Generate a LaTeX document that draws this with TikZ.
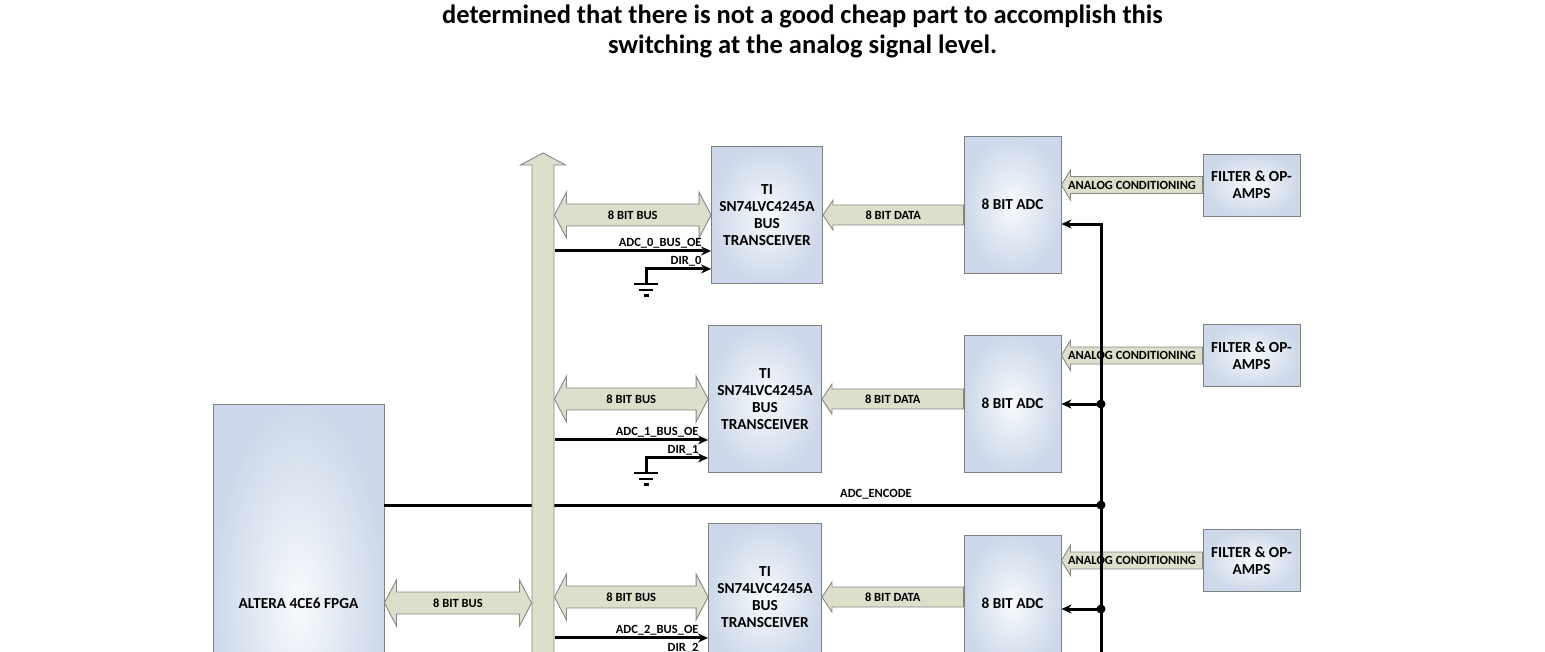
\documentclass[tikz,border=0pt]{standalone}
\usepackage{fontspec}
\setmainfont{Carlito}
\usepackage{tikz}
\usetikzlibrary{arrows.meta,positioning,calc}
\usepackage{xcolor}
\definecolor{boxedge}{RGB}{128,128,128}
\definecolor{boxin}{RGB}{248,250,253}
\definecolor{boxout}{RGB}{204,216,233}
\definecolor{busfill}{RGB}{220,223,202}
\definecolor{busedge}{RGB}{135,135,135}

\newcommand{\busarrow}[3]{%
  \draw[blk] (#1) -- ++(12,-23) -- ++(0,12) -- ($(#2)+(-12,-11)$) -- ++(0,-12) -- (#2)
    -- ++(-12,23) -- ++(0,-12) -- ($(#1)+(12,11)$) -- ++(0,12) -- cycle;
  \node[lab] at ($(#1)!.5!(#2)$) {#3};}
\newcommand{\feedarrow}[6]{%
  \draw[blk] (#1) -- ++(#5,-#3) -- ($(#1)+(#5,-#4)$) -- ($(#2)+(0,-#4)$)
    -- ($(#2)+(0,#4)$) -- ($(#1)+(#5,#4)$) -- ($(#1)+(#5,#3)$) -- cycle;
  \node[lab] at ($(#1)!.5!(#2)$) {#6};}

\begin{document}
\begin{tikzpicture}[
  x=1pt, y=-1pt,
  blockbox/.style={draw=boxedge, line width=0.9pt, inner color=boxin, outer color=boxout,
    inner sep=0pt, align=center, font=\fontsize{15.3}{17}\selectfont\bfseries},
  lab/.style={font=\fontsize{12.5}{14}\selectfont\bfseries, inner sep=0pt},
  blk/.style={draw=busedge, fill=busfill, line width=0.9pt},
  wire/.style={line width=3pt},
  sig/.style={line width=3pt, -{Stealth[length=10pt,width=9pt]}},
  gnd/.style={line width=2.2pt},
]
\useasboundingbox (0,0) rectangle (1545,651);
\clip (0,0) rectangle (1545,651);

\node[font=\fontsize{26.5}{30}\selectfont\bfseries, align=center] (title) at (802.5,31)
  {determined that there is not a good cheap part to accomplish this\\
   switching at the analog signal level.};

\node[blockbox, minimum width=171pt, minimum height=398pt] (fpga) at (298.5,603) {ALTERA 4CE6 FPGA};
\node[blockbox, minimum width=111pt, minimum height=137pt] (tr0) at (767,215)
  {TI\\SN74LVC4245A\\BUS\\TRANSCEIVER};
\node[blockbox, minimum width=113pt, minimum height=147pt] (tr1) at (765,399)
  {TI\\SN74LVC4245A\\BUS\\TRANSCEIVER};
\node[blockbox, minimum width=113pt, minimum height=147pt] (tr2) at (765,597)
  {TI\\SN74LVC4245A\\BUS\\TRANSCEIVER};
\node[blockbox, minimum width=97pt, minimum height=137pt] (adc0) at (1012.5,204.5) {8 BIT ADC};
\node[blockbox, minimum width=97pt, minimum height=137pt] (adc1) at (1012.5,403.5) {8 BIT ADC};
\node[blockbox, minimum width=97pt, minimum height=137pt] (adc2) at (1012.5,603.5) {8 BIT ADC};
\node[blockbox, minimum width=97pt, minimum height=62pt] (filt0) at (1251.5,185) {FILTER \& OP-\\AMPS};
\node[blockbox, minimum width=97pt, minimum height=62pt] (filt1) at (1251.5,355.5) {FILTER \& OP-\\AMPS};
\node[blockbox, minimum width=97pt, minimum height=62pt] (filt2) at (1251.5,560.5) {FILTER \& OP-\\AMPS};

\coordinate (busL) at (531.5,0);
\coordinate (busR) at (554.5,0);
\coordinate (clk0) at (1101,224);
\coordinate (clk1) at (1101,404);
\coordinate (enc) at (1101,505);
\coordinate (clk2) at (1101,609);
\coordinate (clkEnd) at (1101,720);

\draw[wire] (enc -| fpga.east) -- node[lab, pos=.686, anchor=base, yshift=8pt] {ADC\_ENCODE} (enc);
\draw[blk] (543,153) -- ++(22.5,12) -- ++(-11.5,0) -- ++(0,560) -- ++(-22,0) -- ++(0,-560) -- ++(-11.5,0) -- cycle;

\busarrow{fpga.east}{busL |- fpga.east}{8 BIT BUS}
\busarrow{busR |- tr0.west}{tr0.west}{8 BIT BUS}
\busarrow{busR |- tr1.west}{tr1.west}{8 BIT BUS}
\busarrow{busR |- tr2.west}{tr2.west}{8 BIT BUS}

\feedarrow{tr0.east}{adc0.west |- tr0.east}{15}{10}{10}{8 BIT DATA}
\feedarrow{tr1.east}{adc1.west |- tr1.east}{15}{10}{10}{8 BIT DATA}
\feedarrow{tr2.east}{adc2.west |- tr2.east}{15}{10}{10}{8 BIT DATA}
\feedarrow{adc0.east |- filt0.west}{filt0.west}{15}{8.5}{9}{ANALOG CONDITIONING}
\feedarrow{adc1.east |- filt1.west}{filt1.west}{15}{8.5}{9}{ANALOG CONDITIONING}
\feedarrow{adc2.east |- filt2.west}{filt2.west}{15}{8.5}{9}{ANALOG CONDITIONING}

\coordinate (oe0) at ([yshift=33pt]tr0.south west);
\coordinate (dir0) at ([yshift=15pt]tr0.south west);
\coordinate (g0) at (646,284);
\draw[sig] (busR |- oe0) -- (oe0) node[lab, anchor=base east, xshift=-8pt, yshift=4pt] {ADC\_0\_BUS\_OE};
\draw[sig] (g0) |- (dir0) node[lab, anchor=base east, xshift=-8pt, yshift=4pt] {DIR\_0};
\draw[gnd] (g0) +(-12,0) -- +(12,0) +(-7,6) -- +(7,6) +(-2.5,11.5) -- +(2.5,11.5);

\coordinate (oe1) at ([yshift=33pt]tr1.south west);
\coordinate (dir1) at ([yshift=15pt]tr1.south west);
\coordinate (g1) at (646,473);
\draw[sig] (busR |- oe1) -- (oe1) node[lab, anchor=base east, xshift=-8pt, yshift=4pt] {ADC\_1\_BUS\_OE};
\draw[sig] (g1) |- (dir1) node[lab, anchor=base east, xshift=-8pt, yshift=4pt] {DIR\_1};
\draw[gnd] (g1) +(-12,0) -- +(12,0) +(-7,6) -- +(7,6) +(-2.5,11.5) -- +(2.5,11.5);

\coordinate (oe2) at ([yshift=33pt]tr2.south west);
\coordinate (dir2) at ([yshift=15pt]tr2.south west);
\coordinate (g2) at (646,671);
\draw[sig] (busR |- oe2) -- (oe2) node[lab, anchor=base east, xshift=-8pt, yshift=4pt] {ADC\_2\_BUS\_OE};
\draw[sig] (g2) |- (dir2) node[lab, anchor=base east, xshift=-8pt, yshift=4pt] {DIR\_2};

\draw[sig] (clkEnd) |- (adc0.east |- clk0);
\draw[sig] (clk1) -- (clk1 -| adc1.east);
\draw[sig] (clk2) -- (clk2 -| adc2.east);
\fill (clk1) circle (4.5pt) (enc) circle (4.5pt) (clk2) circle (4.5pt);
\end{tikzpicture}
\end{document}
